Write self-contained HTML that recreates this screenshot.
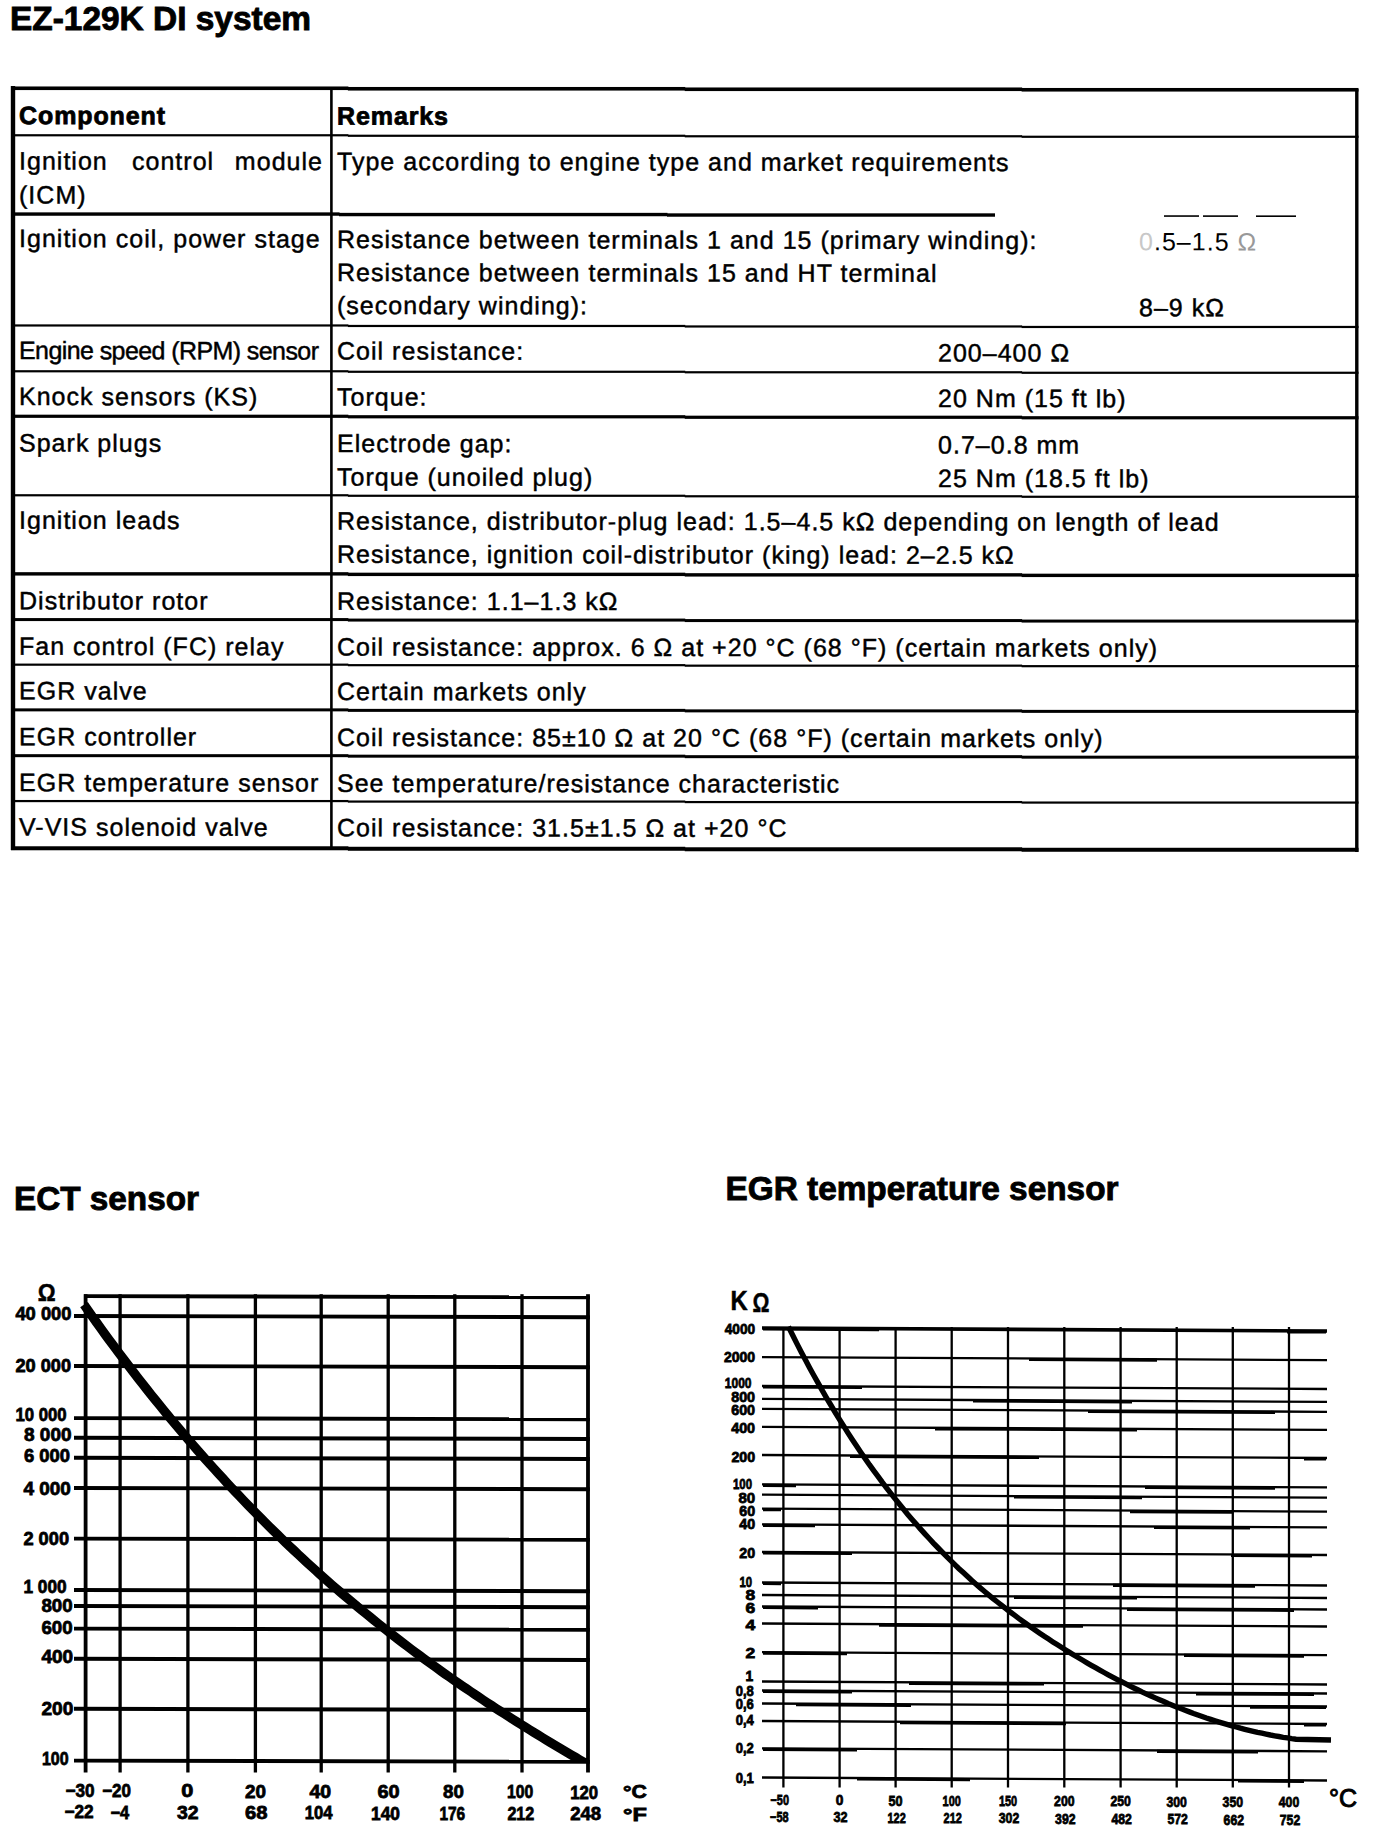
<!DOCTYPE html>
<html><head><meta charset="utf-8"><title>EZ-129K DI system</title>
<style>
html,body{margin:0;padding:0;background:#fff;width:1376px;height:1830px;overflow:hidden}
svg{display:block}
text{font-family:"Liberation Sans",Arial,sans-serif;fill:#000}
.h{font-size:34px;font-weight:700;stroke:#000;stroke-width:0.9px}
.t{font-size:25px;letter-spacing:1.02px;stroke:#000;stroke-width:0.45px}
.tb{font-size:25px;font-weight:700;letter-spacing:0.9px;stroke:#000;stroke-width:0.8px}
.ly{font-size:18px;font-weight:700;letter-spacing:0px;stroke:#000;stroke-width:0.7px}
.lx{font-size:18px;font-weight:700;letter-spacing:-0.8px;stroke:#000;stroke-width:0.7px}
.om{font-size:24px;font-weight:700;stroke:#000;stroke-width:0.5px}
.lb{font-size:19px;font-weight:700;stroke:#000;stroke-width:0.8px}
.le{font-size:15px;font-weight:700;stroke:#000;stroke-width:0.8px}
.lex{font-size:14.5px;font-weight:700;letter-spacing:-1px;stroke:#000;stroke-width:0.7px}
.kk{font-size:28px;font-weight:700;stroke:#000;stroke-width:0.5px}
.ko{font-size:28px;font-weight:700;stroke:#000;stroke-width:0.5px}
.dc{font-size:25px;stroke:#000;stroke-width:1px}
</style></head>
<body><svg width="1376" height="1830" viewBox="0 0 1376 1830">
<rect width="1376" height="1830" fill="#fff"/>
<text x="10" y="29.8" class="h" textLength="301" lengthAdjust="spacingAndGlyphs">EZ-129K DI system</text>
<rect x="11.00" y="86.47" width="337.38" height="3.60"/>
<rect x="347.88" y="86.97" width="337.38" height="3.60"/>
<rect x="684.75" y="87.47" width="337.38" height="3.60"/>
<rect x="1021.62" y="87.97" width="336.88" height="3.60"/>
<rect x="11.00" y="134.17" width="337.38" height="2.20"/>
<rect x="347.88" y="134.67" width="337.38" height="2.20"/>
<rect x="684.75" y="135.17" width="337.38" height="2.20"/>
<rect x="1021.62" y="135.67" width="336.88" height="2.20"/>
<rect x="11.00" y="212.36" width="328.50" height="3.40"/>
<rect x="339.00" y="212.85" width="328.50" height="3.40"/>
<rect x="667.00" y="213.33" width="328.00" height="3.40"/>
<rect x="1164.00" y="215.25" width="35.00" height="1.60"/>
<rect x="1203.00" y="215.31" width="35.00" height="1.60"/>
<rect x="1256.00" y="215.39" width="40.00" height="1.60"/>
<rect x="11.00" y="324.37" width="337.38" height="2.20"/>
<rect x="347.88" y="324.87" width="337.38" height="2.20"/>
<rect x="684.75" y="325.37" width="337.38" height="2.20"/>
<rect x="1021.62" y="325.87" width="336.88" height="2.20"/>
<rect x="11.00" y="370.17" width="337.38" height="2.20"/>
<rect x="347.88" y="370.67" width="337.38" height="2.20"/>
<rect x="684.75" y="371.17" width="337.38" height="2.20"/>
<rect x="1021.62" y="371.67" width="336.88" height="2.20"/>
<rect x="11.00" y="414.67" width="337.38" height="3.20"/>
<rect x="347.88" y="415.17" width="337.38" height="3.20"/>
<rect x="684.75" y="415.67" width="337.38" height="3.20"/>
<rect x="1021.62" y="416.17" width="336.88" height="3.20"/>
<rect x="11.00" y="494.17" width="337.38" height="2.20"/>
<rect x="347.88" y="494.67" width="337.38" height="2.20"/>
<rect x="684.75" y="495.17" width="337.38" height="2.20"/>
<rect x="1021.62" y="495.67" width="336.88" height="2.20"/>
<rect x="11.00" y="572.17" width="337.38" height="3.40"/>
<rect x="347.88" y="572.67" width="337.38" height="3.40"/>
<rect x="684.75" y="573.17" width="337.38" height="3.40"/>
<rect x="1021.62" y="573.67" width="336.88" height="3.40"/>
<rect x="11.00" y="618.07" width="337.38" height="3.00"/>
<rect x="347.88" y="618.57" width="337.38" height="3.00"/>
<rect x="684.75" y="619.07" width="337.38" height="3.00"/>
<rect x="1021.62" y="619.57" width="336.88" height="3.00"/>
<rect x="11.00" y="663.57" width="337.38" height="2.20"/>
<rect x="347.88" y="664.07" width="337.38" height="2.20"/>
<rect x="684.75" y="664.57" width="337.38" height="2.20"/>
<rect x="1021.62" y="665.07" width="336.88" height="2.20"/>
<rect x="11.00" y="708.37" width="337.38" height="3.00"/>
<rect x="347.88" y="708.87" width="337.38" height="3.00"/>
<rect x="684.75" y="709.37" width="337.38" height="3.00"/>
<rect x="1021.62" y="709.87" width="336.88" height="3.00"/>
<rect x="11.00" y="754.17" width="337.38" height="3.00"/>
<rect x="347.88" y="754.67" width="337.38" height="3.00"/>
<rect x="684.75" y="755.17" width="337.38" height="3.00"/>
<rect x="1021.62" y="755.67" width="336.88" height="3.00"/>
<rect x="11.00" y="799.97" width="337.38" height="2.20"/>
<rect x="347.88" y="800.47" width="337.38" height="2.20"/>
<rect x="684.75" y="800.97" width="337.38" height="2.20"/>
<rect x="1021.62" y="801.47" width="336.88" height="2.20"/>
<rect x="11.00" y="846.27" width="337.38" height="4.00"/>
<rect x="347.88" y="846.77" width="337.38" height="4.00"/>
<rect x="684.75" y="847.27" width="337.38" height="4.00"/>
<rect x="1021.62" y="847.77" width="336.88" height="4.00"/>
<rect x="10.80" y="86.02" width="4.40" height="764.00"/>
<rect x="330.10" y="87.49" width="2.60" height="762.00"/>
<rect x="1355.10" y="89.01" width="3.40" height="763.00"/>
<g id="tbl" transform="skewY(0.085)">
<text x="19" y="124" class="tb">Component</text>
<text x="337" y="124" class="tb">Remarks</text>
<text x="19" y="169.5" class="t">Ignition</text>
<text x="132" y="169.5" class="t">control</text>
<text x="323" y="169.5" class="t" text-anchor="end">module</text>
<text x="19" y="203.5" class="t">(ICM)</text>
<text x="337" y="169.5" class="t">Type according to engine type and market requirements</text>
<text x="19" y="247" class="t">Ignition coil, power stage</text>
<text x="337" y="247.5" class="t">Resistance between terminals 1 and 15 (primary winding):</text>
<text x="1139" y="248.6" class="t" style="stroke-width:0"><tspan fill="#c8c8c8">0</tspan>.5–1.5 <tspan fill="#999">Ω</tspan></text>
<text x="337" y="280.5" class="t">Resistance between terminals 15 and HT terminal</text>
<text x="337" y="313.5" class="t">(secondary winding):</text>
<text x="1139" y="314.5" class="t">8–9 kΩ</text>
<text x="19" y="359" class="t" textLength="301" lengthAdjust="spacing">Engine speed (RPM) sensor</text>
<text x="337" y="359" class="t">Coil resistance:</text>
<text x="938" y="360" class="t">200–400 Ω</text>
<text x="19" y="405" class="t">Knock sensors (KS)</text>
<text x="337" y="405" class="t">Torque:</text>
<text x="938" y="405.5" class="t">20 Nm (15 ft lb)</text>
<text x="19" y="451.5" class="t">Spark plugs</text>
<text x="337" y="451.5" class="t">Electrode gap:</text>
<text x="938" y="452" class="t">0.7–0.8 mm</text>
<text x="337" y="485" class="t">Torque (unoiled plug)</text>
<text x="938" y="485.5" class="t">25 Nm (18.5 ft lb)</text>
<text x="19" y="528.7" class="t">Ignition leads</text>
<text x="337" y="529" class="t">Resistance, distributor-plug lead: 1.5–4.5 kΩ depending on length of lead</text>
<text x="337" y="562.3" class="t">Resistance, ignition coil-distributor (king) lead: 2–2.5 kΩ</text>
<text x="19" y="609.2" class="t">Distributor rotor</text>
<text x="337" y="609.2" class="t">Resistance: 1.1–1.3 kΩ</text>
<text x="19" y="654.8" class="t">Fan control (FC) relay</text>
<text x="337" y="655" class="t">Coil resistance: approx. 6 Ω at +20 °C (68 °F) (certain markets only)</text>
<text x="19" y="699.3" class="t">EGR valve</text>
<text x="337" y="699.5" class="t">Certain markets only</text>
<text x="19" y="745.2" class="t">EGR controller</text>
<text x="337" y="745.5" class="t">Coil resistance: 85±10 Ω at 20 °C (68 °F) (certain markets only)</text>
<text x="19" y="791.1" class="t">EGR temperature sensor</text>
<text x="337" y="791.3" class="t">See temperature/resistance characteristic</text>
<text x="19" y="835.5" class="t">V-VIS solenoid valve</text>
<text x="337" y="835.7" class="t">Coil resistance: 31.5±1.5 Ω at +20 °C</text>
</g>
<text x="14" y="1209.8" class="h" textLength="185" lengthAdjust="spacingAndGlyphs">ECT sensor</text>
<g id="ect">
<line x1="84" y1="1296.1" x2="589.8" y2="1297.3" stroke="#000" stroke-width="3.9"/>
<line x1="74" y1="1316" x2="589.8" y2="1317.2" stroke="#000" stroke-width="3.9"/>
<line x1="74" y1="1366" x2="589.8" y2="1367.2" stroke="#000" stroke-width="3.9"/>
<line x1="74" y1="1418.1" x2="589.8" y2="1419.3" stroke="#000" stroke-width="3.9"/>
<line x1="74" y1="1437.8" x2="589.8" y2="1439.0" stroke="#000" stroke-width="3.9"/>
<line x1="74" y1="1457.8" x2="589.8" y2="1459.0" stroke="#000" stroke-width="3.9"/>
<line x1="74" y1="1488" x2="589.8" y2="1489.2" stroke="#000" stroke-width="3.9"/>
<line x1="74" y1="1538.6" x2="589.8" y2="1539.8" stroke="#000" stroke-width="3.9"/>
<line x1="74" y1="1590" x2="589.8" y2="1591.2" stroke="#000" stroke-width="3.9"/>
<line x1="74" y1="1606" x2="589.8" y2="1607.2" stroke="#000" stroke-width="3.9"/>
<line x1="74" y1="1628.6" x2="589.8" y2="1629.8" stroke="#000" stroke-width="3.9"/>
<line x1="74" y1="1658.8" x2="589.8" y2="1660.0" stroke="#000" stroke-width="3.9"/>
<line x1="74" y1="1708.8" x2="589.8" y2="1710.0" stroke="#000" stroke-width="3.9"/>
<line x1="74" y1="1760.6" x2="589.8" y2="1761.8" stroke="#000" stroke-width="3.9"/>
<rect x="83.70" y="1294.20" width="3.80" height="478.30"/>
<rect x="118.45" y="1294.20" width="3.30" height="478.30"/>
<rect x="186.25" y="1294.20" width="3.30" height="478.30"/>
<rect x="253.75" y="1294.20" width="3.30" height="478.30"/>
<rect x="319.55" y="1294.20" width="3.30" height="478.30"/>
<rect x="386.55" y="1294.20" width="3.30" height="478.30"/>
<rect x="453.15" y="1294.20" width="3.30" height="478.30"/>
<rect x="520.35" y="1294.20" width="3.30" height="478.30"/>
<rect x="586.10" y="1294.20" width="3.80" height="478.30"/>
<text x="15.4" y="1320.2" class="lb" textLength="56.1" lengthAdjust="spacingAndGlyphs">40 000</text>
<text x="15.4" y="1372.1" class="lb" textLength="55.7" lengthAdjust="spacingAndGlyphs">20 000</text>
<text x="15.4" y="1420.9" class="lb" textLength="51.2" lengthAdjust="spacingAndGlyphs">10 000</text>
<text x="24.0" y="1440.7" class="lb" textLength="47.5" lengthAdjust="spacingAndGlyphs">8 000</text>
<text x="24.0" y="1462.4" class="lb" textLength="46.1" lengthAdjust="spacingAndGlyphs">6 000</text>
<text x="23.4" y="1494.7" class="lb" textLength="47.5" lengthAdjust="spacingAndGlyphs">4 000</text>
<text x="23.4" y="1545.2" class="lb" textLength="45.7" lengthAdjust="spacingAndGlyphs">2 000</text>
<text x="23.4" y="1592.5" class="lb" textLength="43.2" lengthAdjust="spacingAndGlyphs">1 000</text>
<text x="41.4" y="1612.3" class="lb" textLength="31.2" lengthAdjust="spacingAndGlyphs">800</text>
<text x="41.4" y="1634.0" class="lb" textLength="31.2" lengthAdjust="spacingAndGlyphs">600</text>
<text x="41.4" y="1662.7" class="lb" textLength="31.7" lengthAdjust="spacingAndGlyphs">400</text>
<text x="41.4" y="1714.5" class="lb" textLength="31.9" lengthAdjust="spacingAndGlyphs">200</text>
<text x="41.9" y="1764.7" class="lb" textLength="26.7" lengthAdjust="spacingAndGlyphs">100</text>
<text x="37.7" y="1301.4" class="om" textLength="17.9" lengthAdjust="spacingAndGlyphs">Ω</text>
<text x="65.4" y="1797.0" class="lb" textLength="29.1" lengthAdjust="spacingAndGlyphs">−30</text>
<text x="102.2" y="1797.2" class="lb" textLength="28.8" lengthAdjust="spacingAndGlyphs">−20</text>
<text x="181.2" y="1797.4" class="lb" textLength="12.1" lengthAdjust="spacingAndGlyphs">0</text>
<text x="245.0" y="1797.6" class="lb" textLength="21.0" lengthAdjust="spacingAndGlyphs">20</text>
<text x="309.4" y="1797.8" class="lb" textLength="21.7" lengthAdjust="spacingAndGlyphs">40</text>
<text x="377.4" y="1798.0" class="lb" textLength="22.2" lengthAdjust="spacingAndGlyphs">60</text>
<text x="443.1" y="1798.2" class="lb" textLength="20.8" lengthAdjust="spacingAndGlyphs">80</text>
<text x="506.9" y="1798.4" class="lb" textLength="26.3" lengthAdjust="spacingAndGlyphs">100</text>
<text x="570.2" y="1798.6" class="lb" textLength="27.9" lengthAdjust="spacingAndGlyphs">120</text>
<text x="64.4" y="1818.3" class="lb" textLength="29.2" lengthAdjust="spacingAndGlyphs">−22</text>
<text x="110.4" y="1818.5" class="lb" textLength="18.7" lengthAdjust="spacingAndGlyphs">−4</text>
<text x="177.0" y="1818.8" class="lb" textLength="21.6" lengthAdjust="spacingAndGlyphs">32</text>
<text x="245.0" y="1819.1" class="lb" textLength="22.5" lengthAdjust="spacingAndGlyphs">68</text>
<text x="304.8" y="1819.3" class="lb" textLength="27.8" lengthAdjust="spacingAndGlyphs">104</text>
<text x="371.0" y="1819.6" class="lb" textLength="28.9" lengthAdjust="spacingAndGlyphs">140</text>
<text x="439.4" y="1819.8" class="lb" textLength="25.8" lengthAdjust="spacingAndGlyphs">176</text>
<text x="507.4" y="1820.1" class="lb" textLength="26.9" lengthAdjust="spacingAndGlyphs">212</text>
<text x="570.2" y="1820.4" class="lb" textLength="31.0" lengthAdjust="spacingAndGlyphs">248</text>
<text x="623.1" y="1798.2" class="lb" textLength="23.9" lengthAdjust="spacingAndGlyphs">°C</text>
<text x="623.1" y="1820.7" class="lb" textLength="23.9" lengthAdjust="spacingAndGlyphs">°F</text>
<clipPath id="ectc"><rect x="78" y="1290" width="512" height="472.5"/></clipPath>
<path d="M84.0,1304.7 L88.2,1310.7 L92.4,1316.6 L96.6,1322.5 L100.8,1328.4 L105.0,1334.2 L109.2,1339.9 L113.4,1345.6 L117.6,1351.2 L121.8,1356.8 L126.0,1362.4 L130.2,1367.9 L134.4,1373.4 L138.6,1378.8 L142.8,1384.2 L147.0,1389.5 L151.2,1394.8 L155.4,1400.0 L159.6,1405.2 L163.8,1410.4 L168.0,1415.5 L172.2,1420.6 L176.4,1425.6 L180.6,1430.6 L184.8,1435.5 L189.0,1440.4 L193.2,1445.3 L197.4,1450.1 L201.6,1454.9 L205.8,1459.6 L210.1,1464.3 L214.3,1469.0 L218.5,1473.6 L222.7,1478.2 L226.9,1482.8 L231.1,1487.3 L235.3,1491.7 L239.5,1496.2 L243.7,1500.6 L247.9,1504.9 L252.1,1509.3 L256.3,1513.5 L260.5,1517.8 L264.7,1522.0 L268.9,1526.2 L273.1,1530.3 L277.3,1534.4 L281.5,1538.5 L285.7,1542.6 L289.9,1546.6 L294.1,1550.5 L298.3,1554.5 L302.5,1558.4 L306.7,1562.3 L310.9,1566.1 L315.1,1569.9 L319.3,1573.7 L323.5,1577.4 L327.7,1581.2 L331.9,1584.9 L336.1,1588.5 L340.3,1592.1 L344.5,1595.7 L348.7,1599.3 L352.9,1602.8 L357.1,1606.4 L361.3,1609.8 L365.5,1613.3 L369.7,1616.7 L373.9,1620.1 L378.1,1623.5 L382.3,1626.8 L386.5,1630.2 L390.7,1633.5 L394.9,1636.7 L399.1,1640.0 L403.3,1643.2 L407.5,1646.4 L411.7,1649.6 L415.9,1652.7 L420.1,1655.8 L424.3,1658.9 L428.5,1662.0 L432.7,1665.0 L436.9,1668.1 L441.1,1671.1 L445.3,1674.1 L449.5,1677.0 L453.7,1680.0 L457.9,1682.9 L462.2,1685.8 L466.4,1688.7 L470.6,1691.5 L474.8,1694.4 L479.0,1697.2 L483.2,1700.0 L487.4,1702.8 L491.6,1705.5 L495.8,1708.3 L500.0,1711.0 L504.2,1713.7 L508.4,1716.4 L512.6,1719.1 L516.8,1721.7 L521.0,1724.4 L525.2,1727.0 L529.4,1729.6 L533.6,1732.2 L537.8,1734.8 L542.0,1737.4 L546.2,1739.9 L550.4,1742.5 L554.6,1745.0 L558.8,1747.5 L563.0,1750.0 L567.2,1752.5 L571.4,1755.0 L575.6,1757.4 L579.8,1759.9 L584.0,1762.3 L588,1763" clip-path="url(#ectc)" fill="none" stroke="#000" stroke-width="9.3" stroke-linecap="butt"/>
</g>
<text x="725.5" y="1200" class="h" textLength="393" lengthAdjust="spacingAndGlyphs">EGR temperature sensor</text>
<g id="egr">
<line x1="762" y1="1328" x2="1327" y2="1331.0" stroke="#000" stroke-width="3.6"/>
<line x1="762" y1="1357.1" x2="1327" y2="1360.1" stroke="#000" stroke-width="2.3"/>
<line x1="762" y1="1386" x2="1327" y2="1389.0" stroke="#000" stroke-width="2.3"/>
<line x1="762" y1="1398.9" x2="1327" y2="1401.9" stroke="#000" stroke-width="2.3"/>
<line x1="762" y1="1408.8" x2="1327" y2="1411.8" stroke="#000" stroke-width="2.3"/>
<line x1="762" y1="1426.9" x2="1327" y2="1429.9" stroke="#000" stroke-width="2.3"/>
<line x1="762" y1="1455" x2="1327" y2="1458.0" stroke="#000" stroke-width="2.3"/>
<line x1="762" y1="1484.4" x2="1327" y2="1487.4" stroke="#000" stroke-width="2.3"/>
<line x1="762" y1="1494.7" x2="1327" y2="1497.7" stroke="#000" stroke-width="2.3"/>
<line x1="762" y1="1508.6" x2="1327" y2="1511.6" stroke="#000" stroke-width="2.3"/>
<line x1="762" y1="1524.4" x2="1327" y2="1527.4" stroke="#000" stroke-width="2.3"/>
<line x1="762" y1="1552" x2="1327" y2="1555.0" stroke="#000" stroke-width="2.3"/>
<line x1="762" y1="1582.5" x2="1327" y2="1585.5" stroke="#000" stroke-width="2.3"/>
<line x1="762" y1="1595" x2="1327" y2="1598.0" stroke="#000" stroke-width="2.3"/>
<line x1="762" y1="1606.5" x2="1327" y2="1609.5" stroke="#000" stroke-width="2.3"/>
<line x1="762" y1="1623.5" x2="1327" y2="1626.5" stroke="#000" stroke-width="2.3"/>
<line x1="762" y1="1652.2" x2="1327" y2="1655.2" stroke="#000" stroke-width="2.3"/>
<line x1="762" y1="1681.5" x2="1327" y2="1684.5" stroke="#000" stroke-width="2.3"/>
<line x1="762" y1="1690.5" x2="1327" y2="1693.5" stroke="#000" stroke-width="2.3"/>
<line x1="762" y1="1703.5" x2="1327" y2="1706.5" stroke="#000" stroke-width="2.3"/>
<line x1="762" y1="1721" x2="1327" y2="1724.0" stroke="#000" stroke-width="2.3"/>
<line x1="762" y1="1748.3" x2="1327" y2="1751.3" stroke="#000" stroke-width="2.3"/>
<line x1="762" y1="1777.5" x2="1327" y2="1780.5" stroke="#000" stroke-width="2.3"/>
<rect x="782.25" y="1327.00" width="2.30" height="460.50"/>
<rect x="838.45" y="1327.00" width="2.30" height="460.50"/>
<rect x="894.45" y="1327.00" width="2.30" height="460.50"/>
<rect x="950.55" y="1327.00" width="2.30" height="460.50"/>
<rect x="1006.85" y="1327.00" width="2.30" height="460.50"/>
<rect x="1063.15" y="1327.00" width="2.30" height="460.50"/>
<rect x="1119.45" y="1327.00" width="2.30" height="460.50"/>
<rect x="1175.55" y="1327.00" width="2.30" height="460.50"/>
<rect x="1231.65" y="1327.00" width="2.30" height="460.50"/>
<rect x="1287.85" y="1327.00" width="2.30" height="460.50"/>
<line x1="763" y1="1329.0" x2="879" y2="1329.6" stroke="#000" stroke-width="3.2"/>
<line x1="1287" y1="1331.8" x2="1326" y2="1332.0" stroke="#000" stroke-width="3.2"/>
<line x1="1029" y1="1359.5" x2="1157" y2="1360.2" stroke="#000" stroke-width="3.2"/>
<line x1="763" y1="1387.0" x2="862" y2="1387.5" stroke="#000" stroke-width="3.2"/>
<line x1="973" y1="1401.0" x2="1132" y2="1401.9" stroke="#000" stroke-width="3.2"/>
<line x1="1088" y1="1411.5" x2="1275" y2="1412.5" stroke="#000" stroke-width="3.2"/>
<line x1="935" y1="1428.8" x2="1137" y2="1429.9" stroke="#000" stroke-width="3.2"/>
<line x1="850" y1="1456.5" x2="1039" y2="1457.5" stroke="#000" stroke-width="3.2"/>
<line x1="1304" y1="1458.9" x2="1326" y2="1459.0" stroke="#000" stroke-width="3.2"/>
<line x1="763" y1="1485.4" x2="796" y2="1485.6" stroke="#000" stroke-width="3.2"/>
<line x1="1145" y1="1487.4" x2="1275" y2="1488.1" stroke="#000" stroke-width="3.2"/>
<line x1="1014" y1="1497.0" x2="1142" y2="1497.7" stroke="#000" stroke-width="3.2"/>
<line x1="763" y1="1509.6" x2="781" y2="1509.7" stroke="#000" stroke-width="3.2"/>
<line x1="1130" y1="1511.6" x2="1233" y2="1512.1" stroke="#000" stroke-width="3.2"/>
<line x1="763" y1="1525.4" x2="815" y2="1525.7" stroke="#000" stroke-width="3.2"/>
<line x1="1154" y1="1527.5" x2="1250" y2="1528.0" stroke="#000" stroke-width="3.2"/>
<line x1="763" y1="1553.0" x2="852" y2="1553.5" stroke="#000" stroke-width="3.2"/>
<line x1="1231" y1="1555.5" x2="1312" y2="1555.9" stroke="#000" stroke-width="3.2"/>
<line x1="763" y1="1583.5" x2="781" y2="1583.6" stroke="#000" stroke-width="3.2"/>
<line x1="1113" y1="1585.4" x2="1255" y2="1586.1" stroke="#000" stroke-width="3.2"/>
<line x1="1014" y1="1597.3" x2="1137" y2="1598.0" stroke="#000" stroke-width="3.2"/>
<line x1="763" y1="1607.5" x2="818" y2="1607.8" stroke="#000" stroke-width="3.2"/>
<line x1="1127" y1="1609.4" x2="1294" y2="1610.3" stroke="#000" stroke-width="3.2"/>
<line x1="879" y1="1625.1" x2="1083" y2="1626.2" stroke="#000" stroke-width="3.2"/>
<line x1="763" y1="1653.2" x2="847" y2="1653.7" stroke="#000" stroke-width="3.2"/>
<line x1="1184" y1="1655.4" x2="1304" y2="1656.1" stroke="#000" stroke-width="3.2"/>
<line x1="909" y1="1683.3" x2="1044" y2="1684.0" stroke="#000" stroke-width="3.2"/>
<line x1="763" y1="1691.5" x2="852" y2="1692.0" stroke="#000" stroke-width="3.2"/>
<line x1="1196" y1="1693.8" x2="1314" y2="1694.4" stroke="#000" stroke-width="3.2"/>
<line x1="796" y1="1704.7" x2="911" y2="1705.3" stroke="#000" stroke-width="3.2"/>
<line x1="1250" y1="1707.1" x2="1326" y2="1707.5" stroke="#000" stroke-width="3.2"/>
<line x1="900" y1="1722.7" x2="1066" y2="1723.6" stroke="#000" stroke-width="3.2"/>
<line x1="1304" y1="1724.9" x2="1326" y2="1725.0" stroke="#000" stroke-width="3.2"/>
<line x1="763" y1="1749.3" x2="857" y2="1749.8" stroke="#000" stroke-width="3.2"/>
<line x1="1157" y1="1751.4" x2="1258" y2="1751.9" stroke="#000" stroke-width="3.2"/>
<line x1="857" y1="1779.0" x2="970" y2="1779.6" stroke="#000" stroke-width="3.2"/>
<line x1="1238" y1="1781.0" x2="1304" y2="1781.4" stroke="#000" stroke-width="3.2"/>
<text x="724.8" y="1333.5" class="le" textLength="30.3" lengthAdjust="spacingAndGlyphs">4000</text>
<text x="723.9" y="1361.6" class="le" textLength="31.2" lengthAdjust="spacingAndGlyphs">2000</text>
<text x="724.8" y="1388.0" class="le" textLength="26.7" lengthAdjust="spacingAndGlyphs">1000</text>
<text x="731.2" y="1401.6" class="le" textLength="23.9" lengthAdjust="spacingAndGlyphs">800</text>
<text x="731.2" y="1415.2" class="le" textLength="23.9" lengthAdjust="spacingAndGlyphs">600</text>
<text x="731.2" y="1433.3" class="le" textLength="23.9" lengthAdjust="spacingAndGlyphs">400</text>
<text x="731.4" y="1461.6" class="le" textLength="23.7" lengthAdjust="spacingAndGlyphs">200</text>
<text x="733.0" y="1488.9" class="le" textLength="19.0" lengthAdjust="spacingAndGlyphs">100</text>
<text x="738.4" y="1502.6" class="le" textLength="16.7" lengthAdjust="spacingAndGlyphs">80</text>
<text x="739.3" y="1515.7" class="le" textLength="15.8" lengthAdjust="spacingAndGlyphs">60</text>
<text x="739.3" y="1529.3" class="le" textLength="15.8" lengthAdjust="spacingAndGlyphs">40</text>
<text x="739.3" y="1557.8" class="le" textLength="15.8" lengthAdjust="spacingAndGlyphs">20</text>
<text x="739.4" y="1586.6" class="le" textLength="12.6" lengthAdjust="spacingAndGlyphs">10</text>
<text x="745.4" y="1600.2" class="le" textLength="9.7" lengthAdjust="spacingAndGlyphs">8</text>
<text x="745.4" y="1612.9" class="le" textLength="9.7" lengthAdjust="spacingAndGlyphs">6</text>
<text x="745.4" y="1629.8" class="le" textLength="9.7" lengthAdjust="spacingAndGlyphs">4</text>
<text x="745.4" y="1657.9" class="le" textLength="9.7" lengthAdjust="spacingAndGlyphs">2</text>
<text x="745.4" y="1680.6" class="le" textLength="7.7" lengthAdjust="spacingAndGlyphs">1</text>
<text x="735.7" y="1695.7" class="le" textLength="18.1" lengthAdjust="spacingAndGlyphs">0,8</text>
<text x="735.7" y="1709.3" class="le" textLength="18.1" lengthAdjust="spacingAndGlyphs">0,6</text>
<text x="735.7" y="1725.3" class="le" textLength="18.1" lengthAdjust="spacingAndGlyphs">0,4</text>
<text x="735.7" y="1753.4" class="le" textLength="18.1" lengthAdjust="spacingAndGlyphs">0,2</text>
<text x="735.7" y="1783.3" class="le" textLength="18.1" lengthAdjust="spacingAndGlyphs">0,1</text>
<text x="770.5" y="1805.2" class="le" textLength="18.5" lengthAdjust="spacingAndGlyphs">−50</text>
<text x="770.1" y="1822.0" class="le" textLength="18.5" lengthAdjust="spacingAndGlyphs">−58</text>
<text x="835.8" y="1805.4" class="le" textLength="7.6" lengthAdjust="spacingAndGlyphs">0</text>
<text x="833.6" y="1822.3" class="le" textLength="14.0" lengthAdjust="spacingAndGlyphs">32</text>
<text x="888.6" y="1805.6" class="le" textLength="14.0" lengthAdjust="spacingAndGlyphs">50</text>
<text x="887.5" y="1822.6" class="le" textLength="18.2" lengthAdjust="spacingAndGlyphs">122</text>
<text x="942.6" y="1805.8" class="le" textLength="18.2" lengthAdjust="spacingAndGlyphs">100</text>
<text x="943.6" y="1822.9" class="le" textLength="18.2" lengthAdjust="spacingAndGlyphs">212</text>
<text x="998.9" y="1806.0" class="le" textLength="18.2" lengthAdjust="spacingAndGlyphs">150</text>
<text x="998.8" y="1823.3" class="le" textLength="20.4" lengthAdjust="spacingAndGlyphs">302</text>
<text x="1054.1" y="1806.2" class="le" textLength="20.4" lengthAdjust="spacingAndGlyphs">200</text>
<text x="1055.1" y="1823.6" class="le" textLength="20.4" lengthAdjust="spacingAndGlyphs">392</text>
<text x="1110.4" y="1806.4" class="le" textLength="20.4" lengthAdjust="spacingAndGlyphs">250</text>
<text x="1111.4" y="1823.9" class="le" textLength="20.4" lengthAdjust="spacingAndGlyphs">482</text>
<text x="1166.5" y="1806.6" class="le" textLength="20.4" lengthAdjust="spacingAndGlyphs">300</text>
<text x="1167.5" y="1824.2" class="le" textLength="20.4" lengthAdjust="spacingAndGlyphs">572</text>
<text x="1222.6" y="1806.8" class="le" textLength="20.4" lengthAdjust="spacingAndGlyphs">350</text>
<text x="1223.6" y="1824.5" class="le" textLength="20.4" lengthAdjust="spacingAndGlyphs">662</text>
<text x="1278.8" y="1807.0" class="le" textLength="20.4" lengthAdjust="spacingAndGlyphs">400</text>
<text x="1279.8" y="1824.8" class="le" textLength="20.4" lengthAdjust="spacingAndGlyphs">752</text>
<text x="730.4" y="1309.8" class="kk" textLength="17.2" lengthAdjust="spacingAndGlyphs">K</text>
<text x="752.6" y="1311.8" class="ko" textLength="17.0" lengthAdjust="spacingAndGlyphs">Ω</text>
<text x="1329" y="1806.5" class="dc">°C</text>
<path d="M788.4,1326.6 L792.7,1335.2 L796.9,1343.6 L801.2,1351.9 L805.5,1360.0 L809.7,1368.0 L814.0,1375.8 L818.3,1383.4 L822.5,1390.9 L826.8,1398.3 L831.1,1405.5 L835.3,1412.6 L839.6,1419.6 L843.9,1426.4 L848.1,1433.1 L852.4,1439.7 L856.6,1446.1 L860.9,1452.4 L865.2,1458.6 L869.4,1464.7 L873.7,1470.6 L878.0,1476.4 L882.2,1482.2 L886.5,1487.8 L890.8,1493.3 L895.0,1498.7 L899.3,1504.0 L903.6,1509.2 L907.8,1514.4 L912.1,1519.4 L916.4,1524.3 L920.6,1529.1 L924.9,1533.9 L929.2,1538.5 L933.4,1543.1 L937.7,1547.5 L942.0,1551.9 L946.2,1556.2 L950.5,1560.4 L954.8,1564.6 L959.0,1568.7 L963.3,1572.6 L967.6,1576.6 L971.8,1580.4 L976.1,1584.2 L980.3,1587.9 L984.6,1591.5 L988.9,1595.1 L993.1,1598.6 L997.4,1602.0 L1001.7,1605.4 L1005.9,1608.7 L1010.2,1612.0 L1014.5,1615.2 L1018.7,1618.4 L1023.0,1621.5 L1027.3,1624.5 L1031.5,1627.5 L1035.8,1630.5 L1040.1,1633.4 L1044.3,1636.3 L1048.6,1639.1 L1052.9,1641.9 L1057.1,1644.6 L1061.4,1647.3 L1065.7,1650.0 L1069.9,1652.6 L1074.2,1655.2 L1078.5,1657.8 L1082.7,1660.3 L1087.0,1662.8 L1091.3,1665.3 L1095.5,1667.7 L1099.8,1670.1 L1104.1,1672.5 L1108.3,1674.8 L1112.6,1677.1 L1116.8,1679.3 L1121.1,1681.5 L1125.4,1683.7 L1129.6,1685.9 L1133.9,1688.0 L1138.2,1690.0 L1142.4,1692.1 L1146.7,1694.1 L1151.0,1696.0 L1155.2,1697.9 L1159.5,1699.8 L1163.8,1701.6 L1168.0,1703.5 L1172.3,1705.2 L1176.6,1706.9 L1180.8,1708.6 L1185.1,1710.3 L1189.4,1711.9 L1193.6,1713.5 L1197.9,1715.0 L1202.2,1716.5 L1206.4,1718.0 L1210.7,1719.4 L1215.0,1720.8 L1219.2,1722.1 L1223.5,1723.4 L1227.8,1724.6 L1232.0,1725.9 L1236.3,1727.0 L1240.5,1728.2 L1244.8,1729.3 L1249.1,1730.3 L1253.3,1731.3 L1257.6,1732.3 L1261.9,1733.2 L1266.1,1734.1 L1270.4,1735.0 L1274.7,1735.8 L1278.9,1736.5 L1283.2,1737.3 L1287.5,1737.9 L1291.7,1738.6 L1296.0,1739.2 L1331,1740" fill="none" stroke="#000" stroke-width="5.4"/>
</g>
</svg></body></html>
